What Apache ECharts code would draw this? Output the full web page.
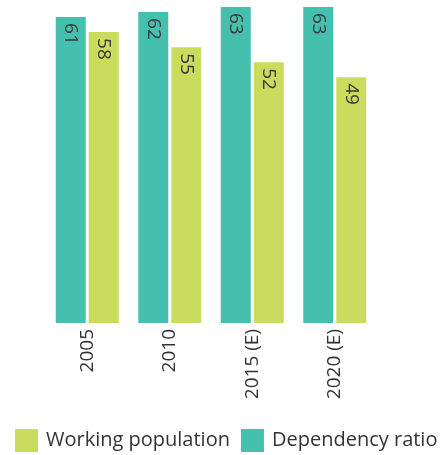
<!DOCTYPE html>
<html>
<head>
<meta charset="utf-8">
<script src="https://cdn.jsdelivr.net/npm/echarts@6/dist/echarts.min.js"></script>
<style>
  html, body { margin: 0; padding: 0; background: #fff; }
  #chart { width: 446px; height: 455px; }
</style>
</head>
<body>
<div id="chart"></div>
<script>
  // categories and values
  var years = ['2005', '2010', '2015 (E)', '2020 (E)'];
  var dependencyRatio = [61, 62, 63, 63];
  var workingPopulation = [58, 55, 52, 49];

  var teal = '#45bfae';
  var lime = '#c9dc5e';
  var font = 'Open Sans';

  var chart = echarts.init(document.getElementById('chart'));

  // value label sits inside the top of the bar, read top to bottom
  var barLabel = {
    show: true,
    position: 'insideTop',
    distance: 6,
    rotate: -90,
    align: 'left',
    verticalAlign: 'middle',
    fontFamily: font,
    fontSize: 19,
    color: '#3a3a3a'
  };

  var option = {
    animation: false,
    legend: {
      data: ['Working population', 'Dependency ratio'],
      left: 15,
      bottom: 3,
      padding: 0,
      itemWidth: 23,
      itemHeight: 23,
      itemGap: 11,
      icon: 'rect',
      textStyle: { fontFamily: font, fontSize: 20, color: '#333', padding: [0, 0, 0, 3] }
    },
    grid: {
      left: 46,
      right: 70,
      top: 7,
      bottom: 132
    },
    xAxis: {
      type: 'category',
      data: years,
      axisLine: { show: false },
      axisTick: { show: false },
      axisLabel: {
        rotate: 90,
        margin: 6,
        fontFamily: font,
        fontSize: 19,
        color: '#333'
      }
    },
    yAxis: {
      type: 'value',
      min: 0,
      max: 63,
      show: false
    },
    series: [
      {
        name: 'Dependency ratio',
        type: 'bar',
        data: dependencyRatio,
        barWidth: 30,
        barGap: '10%',
        itemStyle: { color: teal },
        label: barLabel
      },
      {
        name: 'Working population',
        type: 'bar',
        data: workingPopulation,
        barWidth: 30,
        barGap: '10%',
        itemStyle: { color: lime },
        label: barLabel
      }
    ]
  };

  chart.setOption(option);
</script>
</body>
</html>
